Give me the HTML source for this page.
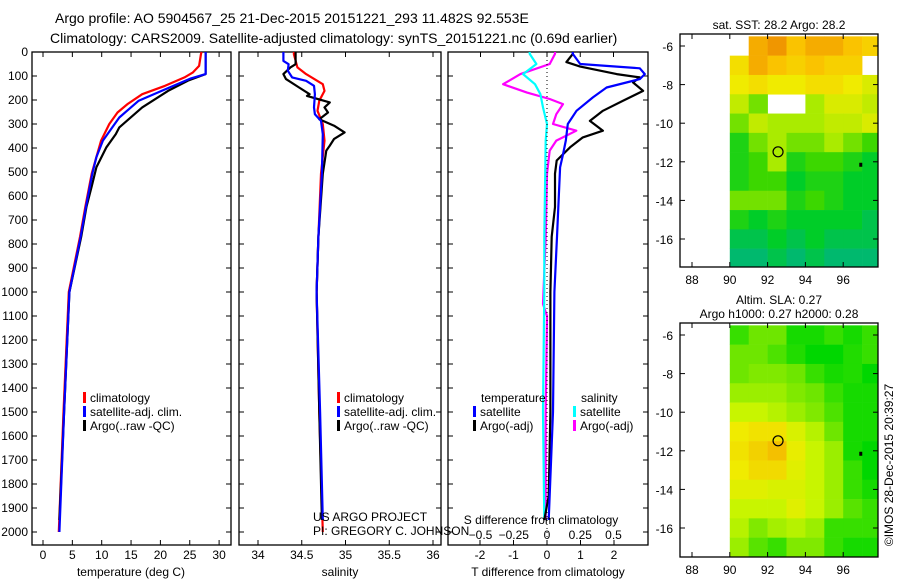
<!DOCTYPE html>
<html><head><meta charset="utf-8"><style>
html,body{margin:0;padding:0;background:#fff;}
svg{display:block;font-family:"Liberation Sans",sans-serif;}
text{font-size:12px;fill:#000;}
</style></head><body>
<svg id="fig" width="900" height="580" viewBox="0 0 900 580" xmlns="http://www.w3.org/2000/svg">
<text x="55" y="23" style="font-size:14px">Argo profile: AO 5904567_25 21-Dec-2015 20151221_293 11.482S 92.553E</text>
<text x="50" y="43" style="font-size:14px">Climatology: CARS2009. Satellite-adjusted climatology: synTS_20151221.nc (0.69d earlier)</text>
<g id="layer"></g>
</svg>
<script>
// ---------- data ----------
const tClimD=[0,10,58,86,106,141,176,217,252,300,369,438,507,646,770,1000,1500,2000];
const tClimV=[27.0,26.9,26.6,25.5,24.1,20.8,16.9,14.4,12.7,11.3,9.9,9.1,8.3,7.2,6.3,4.4,3.5,2.7];
const tSatD=[0,92,110,162,203,273,369,438,507,646,770,1000,1500,2000];
const tSatV=[27.7,27.7,25.2,20.2,16.3,13.0,10.2,9.1,8.4,7.3,6.4,4.5,3.6,2.8];
const tArgoD=[0,92,119,162,231,314,342,397,480,560,646,770,1000,1500,1950];
const tArgoV=[27.7,27.7,24.7,21.3,16.9,13.0,12.4,10.8,9.1,8.3,7.4,6.5,4.5,3.6,2.8];
const sClimD=[0,10,64,92,134,162,203,245,300,369,507,770,1000,1500,2000];
const sClimV=[34.41,34.41,34.45,34.55,34.74,34.76,34.70,34.68,34.74,34.76,34.72,34.69,34.67,34.70,34.74];
const sSatD=[0,10,37,51,78,106,120,141,176,231,259,287,342,507,770,1000,1500,1950];
const sSatV=[34.29,34.29,34.29,34.35,34.34,34.39,34.55,34.64,34.65,34.64,34.65,34.72,34.74,34.73,34.69,34.67,34.71,34.74];
const sArgoD=[0,10,51,64,92,113,148,176,183,210,231,252,280,307,335,362,390,411,507,770,1000,1500,1950];
const sArgoV=[34.43,34.43,34.43,34.37,34.29,34.32,34.47,34.59,34.56,34.82,34.76,34.80,34.70,34.87,34.99,34.87,34.82,34.78,34.74,34.69,34.67,34.70,34.73];
const dTArgoD=[0,8,42,61,92,106,127,162,203,245,287,328,356,397,452,507,646,770,1000,1500,1850,1950];
const dTArgoV=[0.77,0.77,0.58,0.99,2.08,2.77,2.57,2.87,2.27,1.67,1.28,1.67,1.07,0.69,0.29,0.24,0.24,0.14,0.1,0.1,0.05,-0.08];
const dTSatD=[0,8,50,68,92,113,148,189,245,300,369,425,480,770,1000,1500,1950];
const dTSatV=[0.77,0.77,0.99,2.77,2.92,2.77,1.78,1.37,0.88,0.62,0.56,0.48,0.39,0.30,0.22,0.18,0.05];
const dSArgoD=[0,8,50,92,134,169,196,217,259,300,328,369,411,507,770,1050,1100,1500,1950];
const dSArgoV=[0.06,0.06,0.02,-0.20,-0.33,-0.15,0.02,0.12,0.07,0.045,0.22,0.07,0.02,0.0,-0.01,-0.03,0.0,-0.01,-0.01];
const dSSatD=[0,8,50,92,134,176,231,300,369,770,1000,1500,1950];
const dSSatV=[-0.13,-0.13,-0.08,-0.18,-0.09,-0.05,-0.03,0.0,-0.01,-0.02,-0.02,-0.03,-0.02];
const depthTicks=[0,100,200,300,400,500,600,700,800,900,1000,1100,1200,1300,1400,1500,1600,1700,1800,1900,2000];
const tTicks=[0,5,10,15,20,25,30];
const sTicks=[34,34.5,35,35.5,36];
const dTTicks=[-2,-1,0,1,2];
const dSTicks=[-0.5,-0.25,0,0.25,0.5];
// SST grid: rows lat -5.5..-17.5 by 1deg, cols lon 90..98 by 1deg (NaN = no data)
const sstGrid=[
[NaN,29.1,29.2,29.0,29.1,29.1,29.0,28.9],
[28.8,29.1,29.0,28.9,29.0,28.9,28.9,NaN],
[28.7,28.8,28.7,28.7,28.8,28.8,28.7,28.6],
[28.5,28.3,NaN,NaN,28.4,28.6,28.6,28.5],
[28.3,28.5,28.4,28.4,28.4,28.5,28.5,28.6],
[28.1,28.3,28.4,28.3,28.3,28.4,28.3,28.2],
[28.1,28.2,28.4,28.1,28.2,28.2,28.1,28.0],
[28.1,28.2,28.2,28.0,28.1,28.1,28.0,28.0],
[28.3,28.3,28.3,28.1,28.2,28.1,28.0,28.0],
[28.1,28.0,28.1,28.0,28.0,28.0,28.0,27.9],
[27.9,27.9,28.0,27.9,28.0,27.9,27.9,27.9],
[27.8,27.8,27.9,27.8,27.9,27.8,27.8,27.8]];
const slaGrid=[
[0.15,0.2,0.2,0.12,0.12,0.15,0.12,0.15],
[0.2,0.2,0.17,0.13,0.1,0.1,0.13,0.15],
[0.2,0.22,0.22,0.2,0.15,0.12,0.13,0.1],
[0.25,0.25,0.25,0.22,0.2,0.15,0.12,0.12],
[0.3,0.3,0.28,0.25,0.22,0.17,0.12,0.12],
[0.35,0.36,0.36,0.32,0.28,0.2,0.12,0.12],
[0.36,0.38,0.4,0.34,0.3,0.25,0.12,0.1],
[0.35,0.37,0.37,0.33,0.3,0.25,0.15,0.1],
[0.33,0.33,0.32,0.32,0.3,0.25,0.15,0.12],
[0.3,0.3,0.3,0.33,0.3,0.25,0.18,0.15],
[0.28,0.22,0.26,0.28,0.25,0.15,0.15,0.15],
[0.25,0.18,0.15,0.22,0.22,0.15,0.12,0.12]];
const latTicks=[-6,-8,-10,-12,-14,-16];
const lonTicks=[88,90,92,94,96];
const argoLon=92.553, argoLat=-11.482;

// ---------- helpers ----------
const NS='http://www.w3.org/2000/svg';
const L=document.getElementById('layer');
function mk(tag,attrs,parent){const e=document.createElementNS(NS,tag);for(const k in attrs)e.setAttribute(k,attrs[k]);(parent||L).appendChild(e);return e;}
function txt(x,y,s,anchor,parent){const t=mk('text',{x:x,y:y,'text-anchor':anchor||'middle'},parent);t.textContent=s;return t;}
const y=d=>52+d*0.24;
const PB=545;
const panels=[
 {name:'temperature',x0:32,x1:231,sx:v=>43+v*5.87},
 {name:'salinity',x0:239,x1:441,sx:v=>258+(v-34)*87.5},
 {name:'difference',x0:448,x1:648,sx:v=>547+v*33.5,sx2:v=>547+v*133}
];
panels.forEach(p=>{
 const g=mk('g',{});
 
 
 p.g=g;
 const r=mk('rect',{x:p.x0,y:52,width:p.x1-p.x0,height:PB-52,fill:'none',stroke:'#000','stroke-width':1.3},g);
 
 
 depthTicks.forEach(d=>{
  mk('line',{x1:p.x0,x2:p.x0+5,y1:y(d),y2:y(d),stroke:'#000'},g);
  mk('line',{x1:p.x1,x2:p.x1-5,y1:y(d),y2:y(d),stroke:'#000'},g);
 });
});
// y labels
depthTicks.forEach(d=>{const t=txt(28,y(d)+4,String(d),'end');
 
 });
function xTicks(p,ticks,f,labY,top){
 ticks.forEach(v=>{const X=f(v);
  mk('line',{x1:X,x2:X,y1:PB,y2:PB-5,stroke:'#000'},p.g);
  if(top) mk('line',{x1:X,x2:X,y1:52,y2:57,stroke:'#000'},p.g);
  const t=txt(X,labY,String(v),'middle',p.g);
  
  
 });
}
xTicks(panels[0],tTicks,panels[0].sx,559,true);
xTicks(panels[1],sTicks,panels[1].sx,559,true);
xTicks(panels[2],dTTicks,panels[2].sx,559,false);
dSTicks.forEach(v=>{const X=panels[2].sx2(v);
 mk('line',{x1:X,x2:X,y1:52,y2:57,stroke:'#000'},panels[2].g);
 const t=txt(X,539,String(v).replace('-','\u2212'),'middle',panels[2].g);
 
 });
[[131,'temperature (deg C)'],[340,'salinity'],[548,'T difference from climatology']].forEach(a=>{
 const t=txt(a[0],576,a[1]);});
{const t=txt(541,524,'S difference from climatology');}
// dotted zero line
mk('line',{x1:547,x2:547,y1:52,y2:PB,stroke:'#000','stroke-dasharray':'1,3'});
function series(p,f,D,V,color,name){
 const pts=D.map((d,i)=>f(V[i]).toFixed(1)+','+y(d).toFixed(1)).join(' ');
 const e=mk('polyline',{points:pts,fill:'none',stroke:color,'stroke-width':2.2,'stroke-linejoin':'round'},p.g);
 
 
}
series(panels[0],panels[0].sx,tClimD,tClimV,'#f00','temp-climatology-line');
series(panels[0],panels[0].sx,tArgoD,tArgoV,'#000','temp-argo-line');
series(panels[0],panels[0].sx,tSatD,tSatV,'#00f','temp-satellite-line');
series(panels[1],panels[1].sx,sClimD,sClimV,'#f00','sal-climatology-line');
series(panels[1],panels[1].sx,sArgoD,sArgoV,'#000','sal-argo-line');
series(panels[1],panels[1].sx,sSatD,sSatV,'#00f','sal-satellite-line');
series(panels[2],panels[2].sx2,dSArgoD,dSArgoV,'#f0f','sdiff-argo-line');
series(panels[2],panels[2].sx2,dSSatD,dSSatV,'#0ff','sdiff-satellite-line');
series(panels[2],panels[2].sx,dTArgoD,dTArgoV,'#000','tdiff-argo-line');
series(panels[2],panels[2].sx,dTSatD,dTSatV,'#00f','tdiff-satellite-line');
// legends
function legend(x,yy,color,label,name){
 const g=mk('g',{});
 
 
 if(color) mk('rect',{x:x,y:yy-10,width:3,height:11,fill:color},g);
 txt(x+7,yy,label,'start',g);
}
legend(83,402,'#f00','climatology','legend-climatology');
legend(83,416,'#00f','satellite-adj. clim.','legend-satellite-adj');
legend(83,430,'#000','Argo(..raw -QC)','legend-argo');
legend(337,402,'#f00','climatology','legend-climatology-2');
legend(337,416,'#00f','satellite-adj. clim.','legend-satellite-adj-2');
legend(337,430,'#000','Argo(..raw -QC)','legend-argo-2');
legend(474,402,null,'temperature','legend-temperature-header');
legend(473,416,'#00f','satellite','legend-t-satellite');
legend(473,430,'#000','Argo(-adj)','legend-t-argo');
legend(574,402,null,'salinity','legend-salinity-header');
legend(573,416,'#0ff','satellite','legend-s-satellite');
legend(573,430,'#f0f','Argo(-adj)','legend-s-argo');
{const a=txt(313,521,'US ARGO PROJECT','start');
 const b=txt(313,535,'PI: GREGORY C. JOHNSON','start');}

// ---------- maps ----------
function lerpColor(stops,v){
 if(v<=stops[0][0])return stops[0][1];
 for(let i=1;i<stops.length;i++){if(v<=stops[i][0]){const a=stops[i-1],b=stops[i],t=(v-a[0])/(b[0]-a[0]);
  return 'rgb('+[0,1,2].map(k=>Math.round(a[1][k]+(b[1][k]-a[1][k])*t)).join(',')+')';}}
 const c=stops[stops.length-1][1];return 'rgb('+c.join(',')+')';
}
function toRgb(c){return typeof c==='string'?c:'rgb('+c.join(',')+')';}
const sstStops=[[27.8,[0,185,110]],[28.0,[0,205,40]],[28.2,[60,215,0]],[28.4,[170,235,0]],[28.7,[240,235,0]],[29.0,[250,195,0]],[29.2,[240,150,0]]];
const slaStops=[[0.1,[0,215,0]],[0.2,[110,230,0]],[0.3,[200,245,0]],[0.35,[240,235,0]],[0.42,[245,175,0]]];
function drawMap(top,bottom,grid,stops,name,titles){
 const x0=680,x1=878;
 const lx=lon=>692+(lon-88)*18.9;
 const ly=lat=>top+12+(-6-lat)*19.3;
 const g=mk('g',{});
 
 
 grid.forEach((row,i)=>row.forEach((v,j)=>{
  if(isNaN(v))return;
  const la0=-5.5-i, lo0=90+j;
  const X0=lx(lo0),X1=Math.min(lx(lo0+1),x1),Y0=Math.max(ly(la0),top),Y1=Math.min(ly(la0-1),bottom);
  const c=mk('rect',{x:X0,y:Y0,width:X1-X0+0.3,height:Y1-Y0+0.3,fill:toRgb(lerpColor(stops,v))},g);
  
  
 }));
 mk('rect',{x:x0,y:top,width:x1-x0,height:bottom-top,fill:'none',stroke:'#000','stroke-width':1.3},g);
 latTicks.forEach(la=>{mk('line',{x1:x0,x2:x0+5,y1:ly(la),y2:ly(la),stroke:'#000'},g);
  mk('line',{x1:x1,x2:x1-5,y1:ly(la),y2:ly(la),stroke:'#000'},g);
  const t=txt(673,ly(la)+5,String(la).replace('-','-'),'end',g);
  });
 lonTicks.forEach(lo=>{mk('line',{x1:lx(lo),x2:lx(lo),y1:bottom,y2:bottom-5,stroke:'#000'},g);
  mk('line',{x1:lx(lo),x2:lx(lo),y1:top,y2:top+5,stroke:'#000'},g);
  const t=txt(lx(lo),bottom+17,String(lo),'middle',g);
  });
 const c=mk('circle',{cx:lx(argoLon),cy:ly(argoLat),r:5,fill:'none',stroke:'#000','stroke-width':1.2},g);
 
 
 mk('rect',{x:lx(96.85),y:ly(-12.05),width:3,height:4,fill:'#000'},g);
 titles.forEach((s,k)=>{const t=txt(779,top-14*(titles.length-k)+9,s,'middle',g);
  });
}
drawMap(34,267,sstGrid,sstStops,'sst-map',['sat. SST: 28.2 Argo: 28.2']);
drawMap(323,557,slaGrid,slaStops,'sla-map',['Altim. SLA: 0.27','Argo h1000: 0.27 h2000: 0.28']);
{const t=mk('text',{x:0,y:0,'text-anchor':'middle',transform:'translate(893,465) rotate(-90)'});
 t.textContent='\u00A9IMOS 28-Dec-2015 20:39:27';
 
 }
</script>
</body></html>
